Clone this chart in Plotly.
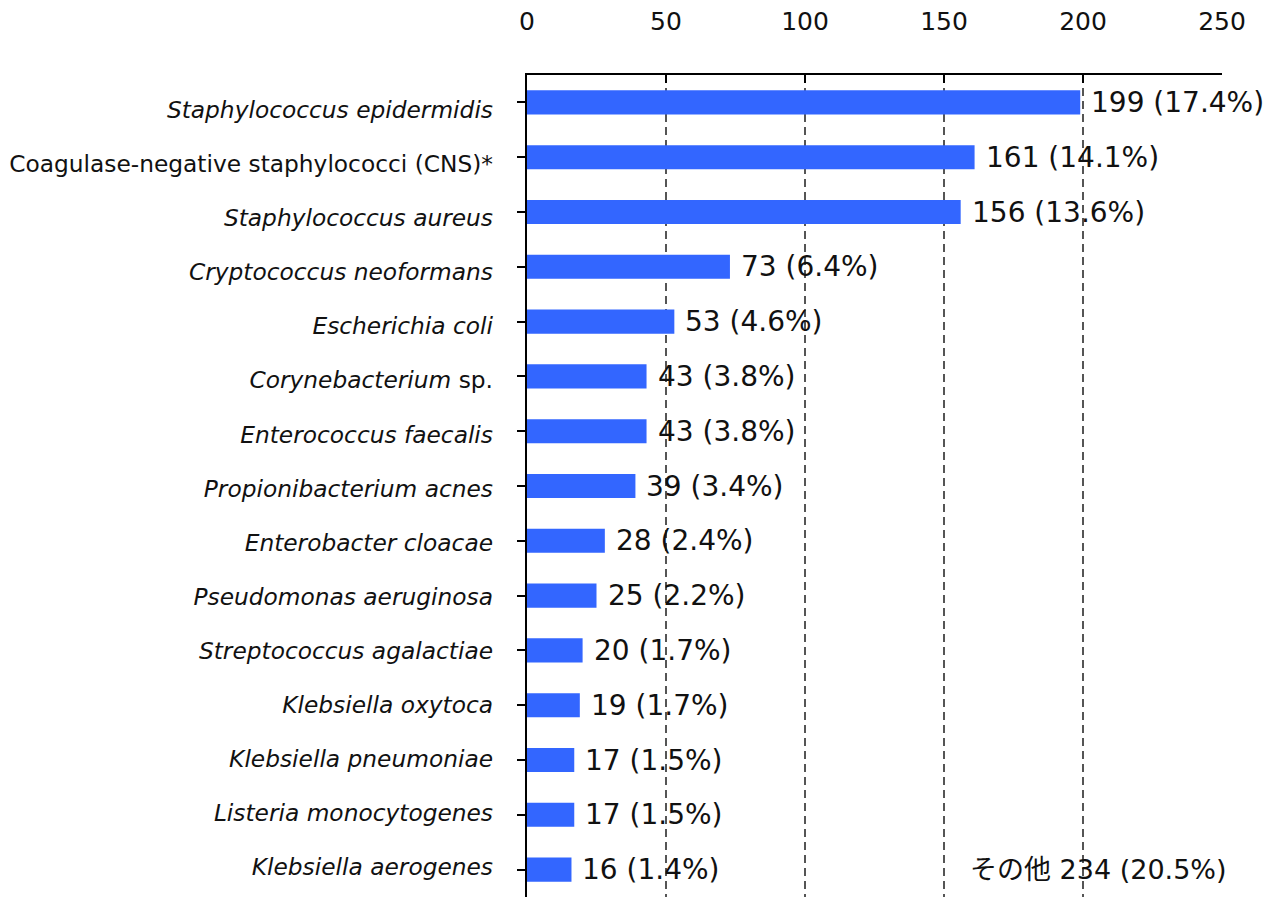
import plotly.graph_objects as go

categories = [
    "<i>Staphylococcus epidermidis</i>",
    "Coagulase-negative staphylococci (CNS)*",
    "<i>Staphylococcus aureus</i>",
    "<i>Cryptococcus neoformans</i>",
    "<i>Escherichia coli</i>",
    "<i>Corynebacterium</i> sp.",
    "<i>Enterococcus faecalis</i>",
    "<i>Propionibacterium acnes</i>",
    "<i>Enterobacter cloacae</i>",
    "<i>Pseudomonas aeruginosa</i>",
    "<i>Streptococcus agalactiae</i>",
    "<i>Klebsiella oxytoca</i>",
    "<i>Klebsiella pneumoniae</i>",
    "<i>Listeria monocytogenes</i>",
    "<i>Klebsiella aerogenes</i>",
]
counts = [199, 161, 156, 73, 53, 43, 43, 39, 28, 25, 20, 19, 17, 17, 16]
percents = [17.4, 14.1, 13.6, 6.4, 4.6, 3.8, 3.8, 3.4, 2.4, 2.2, 1.7, 1.7, 1.5, 1.5, 1.4]
other_label = "その他"
other_count = 234
other_percent = 20.5
x_ticks = [0, 50, 100, 150, 200, 250]

FONT = "DejaVu Sans, Noto Sans CJK JP, sans-serif"
ids = list(range(len(categories)))
n = len(categories)

fig = go.Figure()
fig.add_trace(go.Bar(
    x=counts, y=ids, orientation="h",
    marker=dict(color="#3366FF", line=dict(width=0)),
    width=0.44, hoverinfo="skip",
))
# invisible trace carrying the category label axis
fig.add_trace(go.Scatter(
    x=counts, y=ids, yaxis="y2", mode="markers",
    marker=dict(size=1, opacity=0), hoverinfo="skip", showlegend=False,
))

for i, (c, p) in enumerate(zip(counts, percents)):
    fig.add_annotation(
        x=c, y=i, xref="x", yref="y", text=f"{c} ({p}%)",
        showarrow=False, xanchor="left", yanchor="middle", xshift=9,
        font=dict(family=FONT, size=28, color="#111111"),
    )

fig.add_annotation(
    x=1.01, y=n - 1, xref="paper", yref="y",
    text=f"{other_label} {other_count} ({other_percent}%)",
    showarrow=False, xanchor="right", yanchor="middle",
    font=dict(family=FONT, size=27, color="#111111"),
)

fig.update_layout(
    width=1271, height=889,
    margin=dict(l=519, r=57, t=67, b=0),
    paper_bgcolor="white", plot_bgcolor="white",
    showlegend=False, bargap=0.56,
    font=dict(family=FONT, color="#111111"),
    yaxis2=dict(
        overlaying="y", side="left", anchor="x",
        tickmode="array", tickvals=ids, ticktext=categories,
        range=[n - 0.444, -0.647],
        showgrid=False, zeroline=False, showline=False, ticks="",
        ticklabelstandoff=33,
        tickfont=dict(family=FONT, size=23.3, color="#111111"),
        fixedrange=True,
    ),
)
fig.update_xaxes(
    side="top", range=[0, 250], tickvals=x_ticks,
    showgrid=True, gridcolor="#555555", griddash="8px,5px", gridwidth=1.5,
    zeroline=False, showline=True, linecolor="black", linewidth=2,
    ticks="inside", ticklen=8, tickcolor="black", tickwidth=2,
    ticklabelstandoff=33,
    tickfont=dict(family=FONT, size=25, color="#111111"),
    fixedrange=True,
)
fig.layout.yaxis.update(
    tickmode="array", tickvals=ids, ticktext=[""] * n,
    range=[n - 0.5, -0.5],
    showgrid=False, zeroline=False, showline=True, linecolor="black", linewidth=2,
    ticks="outside", ticklen=8, tickcolor="black", tickwidth=1.5,
    tickson="boundaries",
    fixedrange=True,
)

fig.write_html("out.html")
